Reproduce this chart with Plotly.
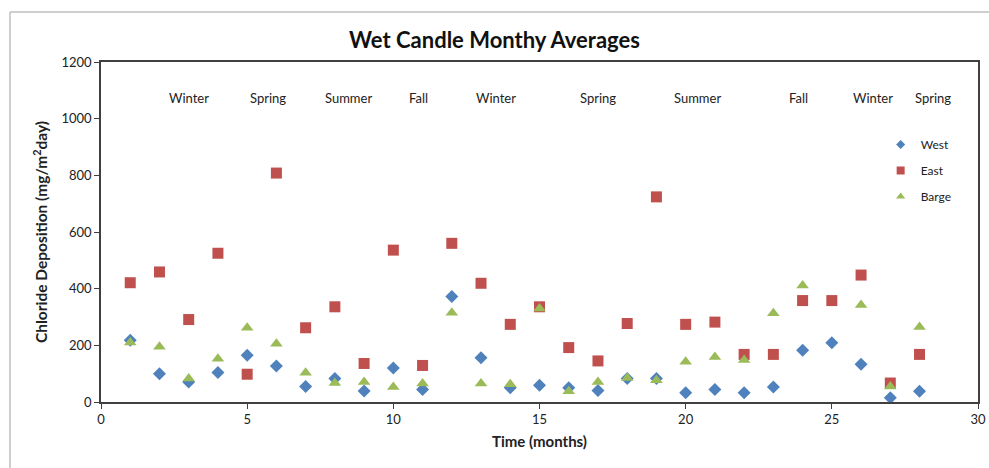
import plotly.graph_objects as go

# Monthly averages (mg/m2/day)
months = list(range(1, 29))
west = [218, 100, 71, 104, 165, 127, 55, 83, 39, 120, 44, 372, 156, 50,
        59, 50, 41, 83, 83, 33, 44, 33, 53, 183, 209, 133, 15, 38]
east = [421, 459, 291, 525, 98, 808, 262, 336, 136, 536, 129, 560, 419, 274,
        336, 192, 145, 277, 724, 274, 282, 168, 168, 358, 358, 448, 67, 168]
barge = [210, 195, 83, 153, 262, 206, 103, 67, 71, 53, 65, 315, 65, 63,
         330, 38, 71, 85, 77, 142, 159, 148, 313, 411, None, 342, 55, 265]

seasons = ['Winter', 'Spring', 'Summer', 'Fall', 'Winter',
           'Spring', 'Summer', 'Fall', 'Winter', 'Spring']
season_x = [3.0, 5.7, 8.45, 10.85, 13.5, 17.0, 20.4, 23.85, 26.4, 28.45]

font = 'Lato, Open Sans, sans-serif'

series = [
    ('West', west, 'diamond', '#4F81BD', 10, 7),
    ('East', east, 'square', '#C0504D', 11, 8),
    ('Barge', barge, 'triangle-up', '#9BBB59', 11, 8),
]

fig = go.Figure()

for name, vals, sym, col, size, leg_size in series:
    fig.add_trace(go.Scatter(
        x=months, y=vals, mode='markers', name=name, showlegend=False,
        marker=dict(symbol=sym, color=col, size=size)
    ))
    # legend entry with the smaller markers the reference uses
    fig.add_trace(go.Scatter(
        x=[None], y=[None], mode='markers', name=name, legendgroup=name,
        marker=dict(symbol=sym, color=col, size=leg_size)
    ))

# season labels across the top
for s, sx in zip(seasons, season_x):
    fig.add_annotation(x=sx, y=1073, text=s, showarrow=False,
                       font=dict(size=13, color='#222222', family=font))

# chart area border: only the left and top edges show in the picture
border = dict(color='#BFBFBF', width=1.5)
fig.add_shape(type='line', xref='paper', yref='paper',
              x0=-91/877, x1=-91/877, y0=-80/340, y1=390/340, line=border)
fig.add_shape(type='line', xref='paper', yref='paper',
              x0=-91/877, x1=888/877, y0=390/340, y1=390/340, line=border)

fig.update_layout(
    width=989, height=468,
    margin=dict(l=101, r=11, t=62, b=66),
    paper_bgcolor='white', plot_bgcolor='white',
    font=dict(family=font, size=13, color='#222222'),
    title=dict(text='<b>Wet Candle Monthy Averages</b>', x=0.5, xanchor='center',
               y=1 - 40/468, yanchor='middle', font=dict(size=22, color='#111111')),
    showlegend=True,
    legend=dict(x=0.889, y=0.80, xanchor='left', yanchor='top',
                bgcolor='rgba(0,0,0,0)', font=dict(size=12),
                itemwidth=30, tracegroupgap=7),
    xaxis=dict(range=[0, 30], tickvals=[0, 5, 10, 15, 20, 25, 30],
               showgrid=False, zeroline=False, showline=True, mirror=True,
               linecolor='#404040', linewidth=1.5, ticks='outside', ticklen=5,
               tickcolor='#404040', automargin=False,
               title=dict(text='<b>Time (months)</b>', font=dict(size=15), standoff=10)),
    yaxis=dict(range=[0, 1200], tickvals=[0, 200, 400, 600, 800, 1000, 1200],
               showgrid=False, zeroline=False, showline=True, mirror=True,
               linecolor='#404040', linewidth=1.5, ticks='outside', ticklen=5,
               tickcolor='#404040', automargin=False,
               title=dict(text='<b>Chloride Deposition (mg/m<sup>2</sup>day)</b>',
                          font=dict(size=15.5), standoff=10)),
)

# drop the browser's default page margin so the figure sits at the window corner
fig.write_html("out.html", config={'displayModeBar': False},
               post_script="document.body.style.margin='0';")
